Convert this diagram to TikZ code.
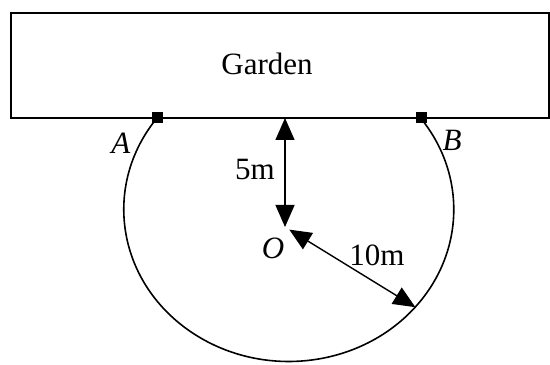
\documentclass[tikz,border=0pt]{standalone}
\usepackage{fontspec}
\setmainfont{Liberation Serif}
\usetikzlibrary{arrows.meta,calc}
\tikzset{
el/.style={font=\fontsize{15.5}{18}\selectfont,inner sep=0pt},
sq/.style={rectangle,fill,inner sep=0pt,minimum size=5.5pt},
dim/.style={{Triangle[length=11pt,width=9.5pt]}-{Triangle[length=11pt,width=9.5pt]},line width=.7pt},
rim/.style={line width=.8pt},
}
\begin{document}
\begin{tikzpicture}[x=0.5pt,y=0.5pt]
\useasboundingbox (0,0) rectangle (550,364);
\draw[line width=1pt] (11,246) rectangle (549,351);
\node[el,anchor=base] (garden) at (267,289) {Garden};
\coordinate (c) at (289,154.5);
\coordinate (top) at (285,246);
\coordinate (O) at (285,137);
\coordinate (edge) at ($(c)+(-40:165 and 152)$);
\node[sq] (A) at (157,246) {};
\node[sq] (B) at (421,246) {};
\draw[rim] (A.center) arc[start angle=143,end angle=397,x radius=165,y radius=152];
\node[sq] at (A) {};
\node[sq] at (B) {};

\draw[dim] (top) -- (O);
\draw[dim,shorten <=2.5pt] (O) -- (edge);

\node[el] (lA) at (121,221) {\textit{A}};
\node[el] (lB) at (452,224) {\textit{B}};
\node[el] (l5) at (255,194) {5m};
\node[el] (lO) at (273,116) {\textit{O}};
\node[el] (l10) at (377,109) {10m};
\end{tikzpicture}
\end{document}
